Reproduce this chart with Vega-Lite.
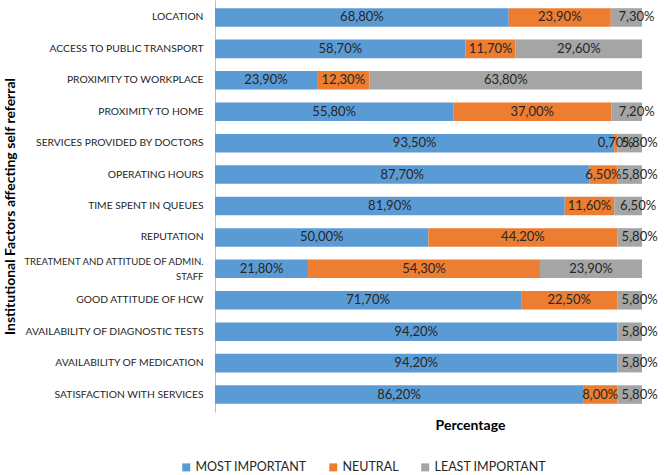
{
  "$schema": "https://vega.github.io/schema/vega-lite/v6.json",
  "autosize": {"type": "none"},
  "padding": {"left": 215, "top": 0, "right": 23, "bottom": 63},
  "width": 427,
  "height": 412,
  "background": "white",
  "config": {
    "font": "Lato",
    "view": {"stroke": null},
    "locale": {"number": {"decimal": ",", "thousands": ".", "grouping": [3], "currency": ["", " €"]}}
  },
  "data": {"values": [
    {"factor": "LOCATION", "level": "MOST IMPORTANT", "rank": 1, "share": 0.688},
    {"factor": "LOCATION", "level": "NEUTRAL", "rank": 2, "share": 0.239},
    {"factor": "LOCATION", "level": "LEAST IMPORTANT", "rank": 3, "share": 0.073},
    {"factor": "ACCESS TO PUBLIC TRANSPORT", "level": "MOST IMPORTANT", "rank": 1, "share": 0.587},
    {"factor": "ACCESS TO PUBLIC TRANSPORT", "level": "NEUTRAL", "rank": 2, "share": 0.117},
    {"factor": "ACCESS TO PUBLIC TRANSPORT", "level": "LEAST IMPORTANT", "rank": 3, "share": 0.296},
    {"factor": "PROXIMITY TO WORKPLACE", "level": "MOST IMPORTANT", "rank": 1, "share": 0.239},
    {"factor": "PROXIMITY TO WORKPLACE", "level": "NEUTRAL", "rank": 2, "share": 0.123},
    {"factor": "PROXIMITY TO WORKPLACE", "level": "LEAST IMPORTANT", "rank": 3, "share": 0.638},
    {"factor": "PROXIMITY TO HOME", "level": "MOST IMPORTANT", "rank": 1, "share": 0.558},
    {"factor": "PROXIMITY TO HOME", "level": "NEUTRAL", "rank": 2, "share": 0.370},
    {"factor": "PROXIMITY TO HOME", "level": "LEAST IMPORTANT", "rank": 3, "share": 0.072},
    {"factor": "SERVICES PROVIDED BY DOCTORS", "level": "MOST IMPORTANT", "rank": 1, "share": 0.935},
    {"factor": "SERVICES PROVIDED BY DOCTORS", "level": "NEUTRAL", "rank": 2, "share": 0.007},
    {"factor": "SERVICES PROVIDED BY DOCTORS", "level": "LEAST IMPORTANT", "rank": 3, "share": 0.058},
    {"factor": "OPERATING HOURS", "level": "MOST IMPORTANT", "rank": 1, "share": 0.877},
    {"factor": "OPERATING HOURS", "level": "NEUTRAL", "rank": 2, "share": 0.065},
    {"factor": "OPERATING HOURS", "level": "LEAST IMPORTANT", "rank": 3, "share": 0.058},
    {"factor": "TIME SPENT IN QUEUES", "level": "MOST IMPORTANT", "rank": 1, "share": 0.819},
    {"factor": "TIME SPENT IN QUEUES", "level": "NEUTRAL", "rank": 2, "share": 0.116},
    {"factor": "TIME SPENT IN QUEUES", "level": "LEAST IMPORTANT", "rank": 3, "share": 0.065},
    {"factor": "REPUTATION", "level": "MOST IMPORTANT", "rank": 1, "share": 0.500},
    {"factor": "REPUTATION", "level": "NEUTRAL", "rank": 2, "share": 0.442},
    {"factor": "REPUTATION", "level": "LEAST IMPORTANT", "rank": 3, "share": 0.058},
    {"factor": "TREATMENT AND ATTITUDE OF ADMIN. STAFF", "level": "MOST IMPORTANT", "rank": 1, "share": 0.218},
    {"factor": "TREATMENT AND ATTITUDE OF ADMIN. STAFF", "level": "NEUTRAL", "rank": 2, "share": 0.543},
    {"factor": "TREATMENT AND ATTITUDE OF ADMIN. STAFF", "level": "LEAST IMPORTANT", "rank": 3, "share": 0.239},
    {"factor": "GOOD ATTITUDE OF HCW", "level": "MOST IMPORTANT", "rank": 1, "share": 0.717},
    {"factor": "GOOD ATTITUDE OF HCW", "level": "NEUTRAL", "rank": 2, "share": 0.225},
    {"factor": "GOOD ATTITUDE OF HCW", "level": "LEAST IMPORTANT", "rank": 3, "share": 0.058},
    {"factor": "AVAILABILITY OF DIAGNOSTIC TESTS", "level": "MOST IMPORTANT", "rank": 1, "share": 0.942},
    {"factor": "AVAILABILITY OF DIAGNOSTIC TESTS", "level": "LEAST IMPORTANT", "rank": 3, "share": 0.058},
    {"factor": "AVAILABILITY OF MEDICATION", "level": "MOST IMPORTANT", "rank": 1, "share": 0.942},
    {"factor": "AVAILABILITY OF MEDICATION", "level": "LEAST IMPORTANT", "rank": 3, "share": 0.058},
    {"factor": "SATISFACTION WITH SERVICES", "level": "MOST IMPORTANT", "rank": 1, "share": 0.862},
    {"factor": "SATISFACTION WITH SERVICES", "level": "NEUTRAL", "rank": 2, "share": 0.080},
    {"factor": "SATISFACTION WITH SERVICES", "level": "LEAST IMPORTANT", "rank": 3, "share": 0.058}
  ]},
  "encoding": {
    "y": {
      "field": "factor", "type": "nominal", "sort": null,
      "scale": {"paddingInner": 0.41, "paddingOuter": 0.26},
      "axis": {
        "title": "Institutional Factors affecting self referral",
        "titleFont": "Lato", "titleFontSize": 14, "titleFontWeight": "bold", "titleColor": "#000000",
        "titleX": -205, "titleY": 206, "titleAngle": -90, "titleAlign": "center", "titleBaseline": "middle",
        "labelFontSize": {"condition": {"test": "datum.value == 'TREATMENT AND ATTITUDE OF ADMIN. STAFF'", "value": 9.6}, "value": 10.3},
        "labelColor": "#262626", "labelPadding": 12, "labelLimit": 260,
        "labelLineHeight": 15,
        "labelOffset": {"condition": {"test": "datum.value == 'TREATMENT AND ATTITUDE OF ADMIN. STAFF'", "value": -7}, "value": 0},
        "labelExpr": "datum.value == 'TREATMENT AND ATTITUDE OF ADMIN. STAFF' ? ['TREATMENT AND ATTITUDE OF ADMIN.', 'STAFF'] : datum.label",
        "ticks": false, "domainColor": "#bfbfbf", "domainWidth": 1, "grid": false
      }
    }
  },
  "layer": [
    {
      "mark": {"type": "bar"},
      "encoding": {
        "x": {
          "field": "share", "type": "quantitative", "stack": "zero",
          "scale": {"domain": [0, 1], "nice": false, "zero": true},
          "axis": {
            "title": "Percentage", "titleFontSize": 14, "titleFontWeight": "bold", "titleColor": "#000000",
            "titleX": 255, "titleY": 13, "titleBaseline": "middle", "titleAlign": "center",
            "labels": false, "ticks": false, "domain": false, "grid": false
          }
        },
        "color": {
          "field": "level", "type": "nominal",
          "scale": {"domain": ["MOST IMPORTANT", "NEUTRAL", "LEAST IMPORTANT"], "range": ["#5B9BD5", "#ED7D31", "#A5A5A5"]},
          "legend": {
            "title": null, "orient": "none", "direction": "horizontal",
            "legendX": -35, "legendY": 461,
            "symbolType": "square", "symbolSize": 64, "symbolStrokeWidth": 0,
            "labelFontSize": 12.5, "labelColor": "#262626", "labelOffset": 3, "columnPadding": 20
          }
        },
        "order": {"field": "rank", "type": "quantitative"}
      }
    },
    {
      "mark": {"type": "text", "fontSize": 13, "color": "#262626", "baseline": "middle", "align": "center"},
      "encoding": {
        "x": {"field": "share", "type": "quantitative", "stack": "zero", "bandPosition": 0.5},
        "detail": {"field": "level", "type": "nominal"},
        "order": {"field": "rank", "type": "quantitative"},
        "text": {"field": "share", "type": "quantitative", "format": ".2%"},
        "opacity": {"condition": {"test": "datum.level == 'LEAST IMPORTANT' && datum.share < 0.1", "value": 0}, "value": 1}
      }
    },
    {
      "mark": {"type": "text", "fontSize": 13, "color": "#262626", "baseline": "middle", "align": "center", "dx": 10},
      "encoding": {
        "x": {"field": "share", "type": "quantitative", "stack": "zero", "bandPosition": 0.5},
        "detail": {"field": "level", "type": "nominal"},
        "order": {"field": "rank", "type": "quantitative"},
        "text": {"field": "share", "type": "quantitative", "format": ".2%"},
        "opacity": {"condition": {"test": "datum.level == 'LEAST IMPORTANT' && datum.share < 0.1", "value": 1}, "value": 0}
      }
    }
  ]
}
